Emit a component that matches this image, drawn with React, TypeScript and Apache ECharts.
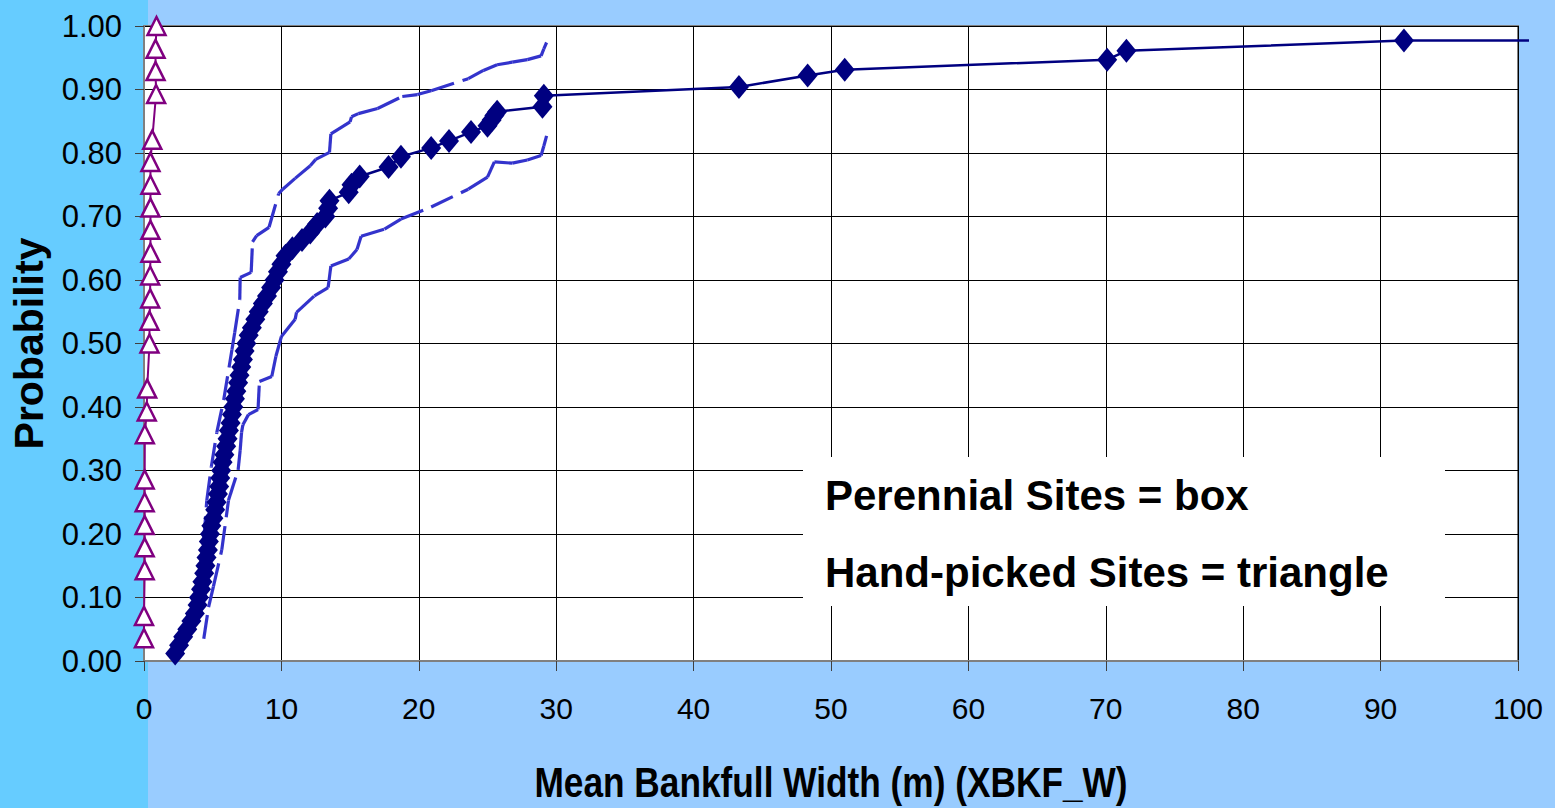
import React, { useEffect, useRef } from "react";
import * as echarts from "echarts";

// Perennial sites (diamonds): [mean bankfull width (m), probability]
const perennialPoints: number[][] = [
  [2.27, 0.012], [2.55, 0.025], [2.85, 0.038], [3.15, 0.05], [3.45, 0.063], [3.7, 0.075],
  [3.9, 0.088], [4.0, 0.1], [4.15, 0.113], [4.25, 0.125], [4.38, 0.138], [4.47, 0.15],
  [4.55, 0.163], [4.65, 0.175], [4.72, 0.188], [4.8, 0.2], [4.9, 0.213], [5.05, 0.225],
  [5.18, 0.238], [5.28, 0.25], [5.38, 0.263], [5.47, 0.275], [5.55, 0.288], [5.62, 0.3],
  [5.72, 0.313], [5.85, 0.325], [5.98, 0.338], [6.08, 0.35], [6.18, 0.363], [6.3, 0.375],
  [6.4, 0.388], [6.5, 0.4], [6.62, 0.413], [6.72, 0.425], [6.85, 0.438], [6.95, 0.45],
  [7.08, 0.463], [7.2, 0.475], [7.32, 0.488], [7.45, 0.5], [7.62, 0.513], [7.85, 0.525],
  [8.1, 0.538], [8.35, 0.55], [8.65, 0.563], [8.95, 0.575], [9.25, 0.588], [9.5, 0.6],
  [9.75, 0.613], [10.0, 0.625], [10.3, 0.638], [10.8, 0.65], [11.5, 0.663], [12.1, 0.675],
  [12.6, 0.688], [13.2, 0.7], [13.4, 0.713], [13.5, 0.725], [14.9, 0.738], [15.1, 0.75],
  [15.7, 0.763], [17.8, 0.778], [18.7, 0.794], [20.9, 0.808], [22.2, 0.819], [23.8, 0.833],
  [25.0, 0.843], [25.3, 0.852], [25.5, 0.859], [25.7, 0.865], [29.0, 0.873], [29.1, 0.89],
  [43.3, 0.904], [48.3, 0.922], [51.0, 0.931], [70.1, 0.947], [71.5, 0.961], [91.7, 0.977],
];
// the curve continues flat past the last site, a little beyond the plot edge
const perennialTail: number[] = [100.8, 0.977];

// Hand-picked sites (triangles)
const handPickedPoints: number[][] = [
  [0.0, 0.036], [0.0, 0.071], [0.05, 0.143], [0.05, 0.179], [0.05, 0.214], [0.05, 0.25],
  [0.05, 0.286], [0.06, 0.357], [0.2, 0.393], [0.23, 0.429], [0.4, 0.5], [0.4, 0.536],
  [0.45, 0.571], [0.45, 0.607], [0.47, 0.643], [0.47, 0.679], [0.47, 0.714], [0.47, 0.75],
  [0.47, 0.786], [0.6, 0.821], [0.88, 0.893], [0.84, 0.929], [0.84, 0.964], [0.91, 1.0],
];

// Confidence bands
const upperBand: number[][] = [
  [4.35, 0.19], [4.57, 0.253], [4.9, 0.306], [5.3, 0.36], [5.8, 0.411], [6.4, 0.49],
  [6.6, 0.517], [6.97, 0.569], [7.0, 0.604], [7.8, 0.612], [7.9, 0.66], [8.2, 0.67],
  [9.1, 0.683], [9.8, 0.736], [10.1, 0.743], [11.0, 0.76], [12.1, 0.78], [12.5, 0.79],
  [13.5, 0.801], [13.6, 0.83], [15.0, 0.849], [15.1, 0.857], [15.6, 0.862], [17.0, 0.87],
  [18.8, 0.889], [19.9, 0.892], [20.9, 0.898], [23.6, 0.917], [24.7, 0.93], [25.7, 0.939],
  [26.8, 0.943], [27.9, 0.947], [28.9, 0.953], [29.1, 0.964], [29.3, 0.974],
];
const lowerBand: number[][] = [
  [4.35, 0.035], [4.7, 0.085], [5.05, 0.117], [5.66, 0.175], [6.15, 0.253], [6.85, 0.301],
  [7.0, 0.332], [7.1, 0.36], [7.2, 0.372], [7.6, 0.388], [8.3, 0.396], [8.4, 0.44],
  [9.3, 0.448], [9.6, 0.48], [10.0, 0.511], [11.0, 0.538], [11.1, 0.549], [12.4, 0.575],
  [13.4, 0.588], [13.6, 0.622], [14.9, 0.633], [15.5, 0.648], [15.8, 0.669], [17.5, 0.68],
  [18.7, 0.696], [20.9, 0.715], [23.6, 0.743], [25.0, 0.762], [25.5, 0.786], [26.8, 0.784],
  [27.9, 0.789], [28.9, 0.796], [29.1, 0.811], [29.3, 0.827],
];

const xTitle = "Mean Bankfull Width (m) (XBKF_W)";
const yTitle = "Probability";
const noteLines = ["Perennial Sites = box", "Hand-picked Sites = triangle"];

const SANS = "'Liberation Sans', Arial, sans-serif";

function toSegments(pts: number[][]): number[][] {
  const out: number[][] = [];
  for (let i = 0; i < pts.length - 1; i++) {
    out.push([pts[i][0], pts[i][1], pts[i + 1][0], pts[i + 1][1]]);
  }
  return out;
}

function segmentSeries(pts: number[][], stroke: string, lineWidth: number, lineDash: number[] | null, z: number) {
  return {
    type: "custom",
    silent: true,
    clip: false,
    z,
    data: toSegments(pts),
    encode: { x: [0, 2], y: [1, 3] },
    renderItem: (_params: any, api: any) => {
      const p1 = api.coord([api.value(0), api.value(1)]);
      const p2 = api.coord([api.value(2), api.value(3)]);
      return {
        type: "line",
        shape: { x1: p1[0], y1: p1[1], x2: p2[0], y2: p2[1] },
        style: { stroke, lineWidth, lineDash, fill: null },
      };
    },
  };
}

export default function App() {
  const ref = useRef<HTMLDivElement>(null);

  useEffect(() => {
    if (!ref.current) return;
    const chart = echarts.init(ref.current, null, { renderer: "svg" });
    const lastPoint = perennialPoints[perennialPoints.length - 1];
    chart.setOption({
      animation: false,
      backgroundColor: "#99ccff",
      grid: {
        left: 143,
        right: 37,
        top: 26,
        bottom: 147,
        show: true,
        backgroundColor: "#ffffff",
        borderColor: "#808080",
        borderWidth: 2,
        z: 0,
      },
      graphic: [
        {
          type: "rect",
          z: -10,
          silent: true,
          shape: { x: 0, y: 0, width: 148, height: 808 },
          style: { fill: "#66ccff" },
        },
        {
          type: "rect",
          z: 100,
          silent: true,
          shape: { x: 803, y: 457, width: 642, height: 149 },
          style: { fill: "#ffffff" },
        },
        {
          type: "text",
          z: 101,
          silent: true,
          x: 825,
          y: 495,
          style: {
            text: noteLines[0],
            fontFamily: SANS,
            fontWeight: "bold",
            fontSize: 42,
            fill: "#000000",
            verticalAlign: "middle",
            align: "left",
          },
        },
        {
          type: "text",
          z: 101,
          silent: true,
          x: 825,
          y: 572,
          style: {
            text: noteLines[1],
            fontFamily: SANS,
            fontWeight: "bold",
            fontSize: 42,
            fill: "#000000",
            verticalAlign: "middle",
            align: "left",
          },
        },
        {
          type: "text",
          z: 101,
          silent: true,
          x: 831,
          y: 782,
          scaleX: 0.84,
          style: {
            text: xTitle,
            fontFamily: SANS,
            fontWeight: "bold",
            fontSize: 42,
            fill: "#000000",
            verticalAlign: "middle",
            align: "center",
          },
        },
      ],
      xAxis: {
        type: "value",
        min: 0,
        max: 100,
        interval: 10,
        axisLine: { show: true, onZero: false, lineStyle: { color: "#808080", width: 2 } },
        axisTick: { show: true, inside: false, length: 10, lineStyle: { color: "#404040", width: 1 } },
        axisLabel: { fontFamily: SANS, fontSize: 30, color: "#000", margin: 32 },
        splitLine: { show: true, lineStyle: { color: "#000000", width: 1 } },
      },
      yAxis: {
        type: "value",
        min: 0,
        max: 1,
        interval: 0.1,
        name: yTitle,
        nameLocation: "middle",
        nameGap: 95,
        nameTextStyle: { fontFamily: SANS, fontWeight: "bold", fontSize: 41, color: "#000" },
        axisLine: { show: true, lineStyle: { color: "#808080", width: 2 } },
        axisTick: { show: true, inside: false, length: 9, lineStyle: { color: "#404040", width: 1 } },
        axisLabel: {
          fontFamily: SANS,
          fontSize: 31,
          color: "#000",
          margin: 22,
          formatter: (v: number) => v.toFixed(2),
        },
        splitLine: { show: true, lineStyle: { color: "#000000", width: 1 } },
      },
      series: [
        segmentSeries(upperBand, "#3333cc", 3.2, [24, 9], 2),
        segmentSeries(lowerBand, "#3333cc", 3.2, [24, 9], 2),
        segmentSeries([lastPoint, perennialTail], "#000080", 2.5, null, 3),
        {
          type: "line",
          name: "Perennial Sites",
          clip: false,
          z: 3,
          data: perennialPoints,
          symbol: "diamond",
          symbolSize: [20, 24],
          itemStyle: { color: "#000080" },
          lineStyle: { color: "#000080", width: 2.5 },
        },
        {
          type: "line",
          name: "Hand-picked Sites",
          clip: false,
          z: 4,
          data: handPickedPoints,
          symbol: "triangle",
          symbolSize: [18, 18],
          itemStyle: { color: "#ffffff", borderColor: "#800080", borderWidth: 2.5 },
          lineStyle: { color: "#800080", width: 2 },
        },
      ],
    });
    return () => chart.dispose();
  }, []);

  return (
    <div
      ref={ref}
      style={{ position: "fixed", left: 0, top: 0, width: 1555, height: 808 }}
    />
  );
}
